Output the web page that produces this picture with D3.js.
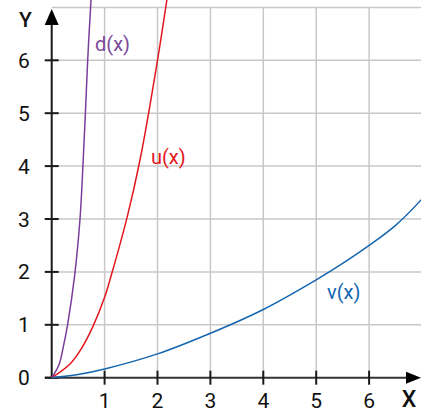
<!DOCTYPE html>
<html><head><meta charset="utf-8">
<script src="https://cdn.jsdelivr.net/npm/d3@7"></script>
<style>html,body{margin:0;padding:0;background:#fff;overflow:hidden}svg{display:block}</style>
</head><body>
<script>
const xTicks = [1, 2, 3, 4, 5, 6];
const yTicks = [0, 1, 2, 3, 4, 5, 6];
const gridX = [1, 2, 3, 4, 5, 6];
const gridY = [1, 2, 3, 4, 5, 6, 7];

const dX = [0, 0.14, 0.22, 0.30, 0.43, 0.535, 0.59, 0.637, 0.68, 0.735, 0.765];
const dY = [0, 0.25, 0.586, 1, 1.9, 3, 4, 5, 6, 7.0, 7.5];
const uX = [0, 0.346, 0.567, 0.78, 1, 1.13, 1.43, 1.67, 2, 2.2];
const uY = [0, 0.26, 0.56, 0.97, 1.52, 1.95, 3.05, 4.12, 6, 7.3];
const vX = [0, 0.5, 1, 2, 3, 4, 5, 5.5, 6, 6.5, 7, 7.2];
const vY = [0, 0.06, 0.165, 0.45, 0.84, 1.29, 1.85, 2.16, 2.5, 2.88, 3.38, 3.62];

const W = 421, H = 414;
const x = d3.scaleLinear().domain([0, 7]).range([51.7, 51.7 + 7 * 52.9]);
const y = d3.scaleLinear().domain([0, 7]).range([377.7, 377.7 - 7 * 52.9]);

const svg = d3.select("body").append("svg").attr("width", W).attr("height", H);
const font = "Roboto, 'DejaVu Sans', sans-serif";

// grid
const grid = svg.append("g").attr("stroke", "#c8c8c8").attr("stroke-width", 1.5);
grid.selectAll("line.gx").data(gridX).join("line")
  .attr("x1", d => x(d)).attr("x2", d => x(d))
  .attr("y1", y(7)).attr("y2", y(0));
grid.selectAll("line.gy").data(gridY).join("line")
  .attr("x1", x(0)).attr("x2", W)
  .attr("y1", d => y(d)).attr("y2", d => y(d));

// axes
const ax = svg.append("g").attr("stroke", "#1a1a1a").attr("stroke-width", 2);
ax.append("line").attr("x1", 45).attr("x2", 410).attr("y1", y(0)).attr("y2", y(0)).attr("stroke", "#333");
ax.append("line").attr("x1", x(0)).attr("x2", x(0)).attr("y1", y(0) + 1).attr("y2", 22);
ax.selectAll("line.ty").data(yTicks).join("line")
  .attr("x1", x(0) - 7).attr("x2", x(0) + 7)
  .attr("y1", d => y(d)).attr("y2", d => y(d));
ax.selectAll("line.tx").data(xTicks).join("line")
  .attr("x1", d => x(d)).attr("x2", d => x(d))
  .attr("y1", y(0) - 7).attr("y2", y(0) + 7);
svg.append("path").attr("fill", "#000")
  .attr("d", `M${x(0)},9 L${x(0) + 7},25 L${x(0) - 7},25 Z`);
svg.append("path").attr("fill", "#000")
  .attr("d", `M421,${y(0)} L406,${y(0) - 6} L406,${y(0) + 6} Z`);

// tick labels
svg.selectAll("text.xl").data(xTicks).join("text")
  .attr("x", d => x(d)).attr("y", 408).attr("text-anchor", "middle")
  .attr("font-family", font).attr("font-size", 21).attr("fill", "#111").text(d => d);
svg.selectAll("text.yl").data(yTicks).join("text")
  .attr("x", 24).attr("y", d => y(d) + 7.5).attr("text-anchor", "middle")
  .attr("font-family", font).attr("font-size", 21).attr("fill", "#111").text(d => d);
svg.append("text").attr("x", 25.5).attr("y", 27).attr("text-anchor", "middle")
  .attr("font-family", font).attr("font-size", 21).attr("font-weight", 500).attr("fill", "#111").text("Y");
svg.append("text").attr("x", 409).attr("y", 407).attr("text-anchor", "middle")
  .attr("font-family", font).attr("font-size", 23).attr("font-weight", 500).attr("fill", "#111").text("X");

// curves
svg.append("clipPath").attr("id", "clip").append("rect")
  .attr("x", x(0) - 2).attr("y", 0).attr("width", W).attr("height", y(0) + 2);
const line = d3.line().x(d => x(d[0])).y(d => y(d[1])).curve(d3.curveCatmullRom.alpha(0.5));
const series = [
  { xs: dX, ys: dY, color: "#7a3d9c" },
  { xs: uX, ys: uY, color: "#e3161f" },
  { xs: vX, ys: vY, color: "#1466b1" }
];
const cg = svg.append("g").attr("clip-path", "url(#clip)");
series.forEach(s => {
  cg.append("path").datum(s.xs.map((v, i) => [v, s.ys[i]]))
    .attr("fill", "none").attr("stroke", s.color).attr("stroke-width", 1.5)
    .attr("d", line);
});

// curve labels
const labels = [
  { t: "d(x)", x: 95, y: 51, c: "#7b4a9c" },
  { t: "u(x)", x: 151, y: 163.5, c: "#e3161f" },
  { t: "v(x)", x: 327, y: 299, c: "#1466b1" }
];
svg.selectAll("text.cl").data(labels).join("text")
  .attr("x", d => d.x).attr("y", d => d.y)
  .attr("font-family", font).attr("font-size", 20).attr("fill", d => d.c).text(d => d.t);
</script>
</body></html>
